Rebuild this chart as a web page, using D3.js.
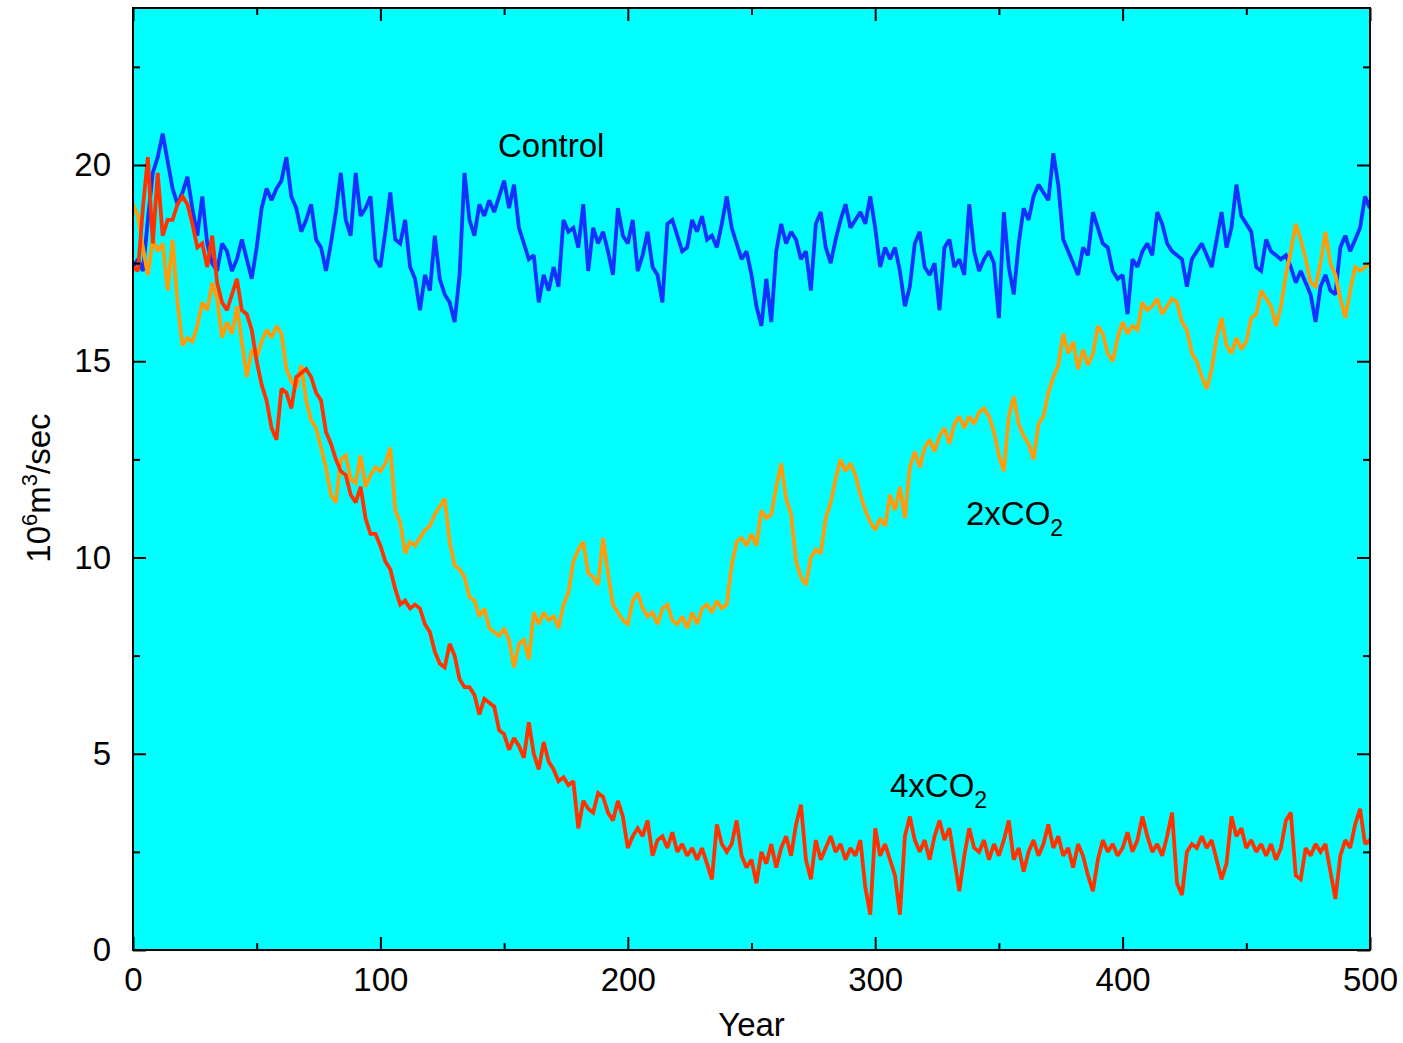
<!DOCTYPE html>
<html><head><meta charset="utf-8">
<script src="https://cdn.jsdelivr.net/npm/d3@7"></script>
<style>
body{margin:0;background:#fff}
text{font-family:"Liberation Sans",Arial,Helvetica,sans-serif;fill:#000}
</style>
</head><body>
<svg id="chart" width="1403" height="1043"></svg>
<script>
// Values every 2 years, years 0..500
const control = [
17.4,17.6,17.3,18.6,19.8,20.2,20.8,20.1,19.4,19.0,
19.3,19.7,18.9,18.2,19.2,18.0,17.5,17.3,18.0,17.8,
17.3,17.6,18.1,17.6,17.1,17.9,18.9,19.4,19.1,19.4,
19.6,20.2,19.2,18.9,18.3,18.6,19.0,18.1,17.9,17.3,
18.0,18.8,19.8,18.6,18.2,19.8,18.7,18.9,19.2,17.6,
17.4,18.3,19.3,18.1,18.0,18.6,17.4,17.1,16.3,17.2,
16.8,18.2,17.1,16.7,16.5,16.0,17.2,19.8,18.6,18.2,
19.0,18.7,19.1,18.8,19.2,19.6,18.9,19.5,18.4,18.0,
17.6,17.7,16.5,17.2,16.8,17.4,16.9,18.6,18.3,18.4,
17.9,19.0,17.3,18.4,18.0,18.3,17.8,17.2,18.9,18.2,
18.0,18.6,17.3,17.7,18.3,17.4,17.2,16.5,18.5,18.6,
18.2,17.8,17.9,18.6,18.3,18.7,18.1,18.2,17.9,18.5,
19.2,18.4,18.0,17.6,17.8,17.2,16.4,15.9,17.1,16.0,
17.8,18.5,18.0,18.3,18.1,17.6,17.8,16.8,18.5,18.8,
17.9,17.5,18.1,18.6,19.0,18.4,18.6,18.8,18.5,19.2,
18.4,17.4,17.9,17.6,17.9,17.3,16.4,16.9,18.0,18.3,
17.4,17.2,17.5,16.3,17.9,18.1,17.4,17.6,17.2,19.0,
17.8,17.3,17.6,17.8,17.5,16.1,18.8,17.4,16.7,18.0,
18.9,18.6,19.2,19.5,19.3,19.1,20.3,19.5,18.1,17.8,
17.5,17.2,17.9,17.7,18.8,18.4,18.0,17.9,17.3,17.1,
17.2,16.2,17.6,17.4,17.8,18.0,17.7,18.8,18.5,18.0,
17.8,17.7,17.6,16.9,17.6,17.8,18.0,17.7,17.4,18.1,
18.8,17.9,18.4,19.5,18.7,18.5,18.3,17.4,17.3,18.1,
17.8,17.7,17.6,17.7,17.4,17.0,17.3,17.0,16.7,16.0,
16.9,17.2,16.8,16.7,17.9,18.2,17.8,18.1,18.4,19.2,
18.9
];
const co2x2 = [
19.0,18.7,17.9,17.2,18.1,17.8,18.0,16.8,18.1,16.5,
15.4,15.6,15.5,15.9,16.5,16.3,17.0,16.6,15.6,16.0,
15.7,16.4,15.5,14.6,15.3,15.1,15.5,15.8,15.6,15.9,
15.7,14.8,14.5,14.3,14.9,14.0,13.5,13.3,12.8,12.3,
11.6,11.4,12.5,12.6,12.0,11.9,12.6,11.8,12.1,12.3,
12.2,12.4,12.8,11.2,10.9,10.1,10.4,10.3,10.5,10.7,
10.8,11.1,11.3,11.5,10.4,9.8,9.7,9.5,9.0,8.9,
8.5,8.7,8.2,8.1,8.0,8.2,7.9,7.2,7.8,7.9,
7.4,8.6,8.3,8.6,8.4,8.5,8.2,8.8,9.1,9.9,
10.2,10.4,9.6,9.5,9.3,10.5,9.6,8.8,8.6,8.4,
8.3,8.9,9.1,8.7,8.5,8.6,8.3,8.7,8.8,8.4,
8.3,8.5,8.2,8.6,8.3,8.7,8.8,8.6,8.9,8.7,
8.8,9.8,10.4,10.5,10.3,10.6,10.3,11.2,11.0,11.1,
11.8,12.4,11.5,11.1,9.9,9.5,9.3,10.0,10.2,10.1,
11.0,11.4,12.0,12.5,12.2,12.4,12.1,11.6,11.2,10.9,
10.7,11.0,10.8,11.6,11.2,11.8,11.0,12.3,12.7,12.3,
12.8,13.0,12.7,13.1,13.3,12.9,13.4,13.6,13.3,13.6,
13.4,13.7,13.8,13.6,13.2,12.6,12.2,13.6,14.1,13.4,
13.1,12.9,12.5,13.4,13.6,14.2,14.6,14.9,15.7,15.2,
15.5,14.8,15.3,14.9,15.2,15.9,15.7,15.2,15.0,15.6,
16.0,15.7,15.9,15.8,16.5,16.3,16.4,16.6,16.2,16.4,
16.6,16.5,16.0,15.8,15.2,15.0,14.6,14.3,14.8,15.6,
16.1,15.4,15.2,15.6,15.3,15.5,16.1,16.2,16.8,16.6,
16.4,15.9,16.4,17.2,17.8,18.5,18.1,17.6,17.0,16.9,
17.5,18.3,17.5,17.2,16.6,16.1,16.8,17.4,17.3,17.4,
17.5
];
const co2x4 = [
17.4,17.3,18.9,20.2,18.0,19.8,18.2,18.6,18.6,19.0,
19.2,19.0,18.5,17.9,18.0,17.4,18.2,17.0,16.5,16.3,
16.7,17.1,16.3,16.2,15.8,15.0,14.4,14.0,13.3,13.0,
14.3,14.2,13.8,14.6,14.7,14.8,14.6,14.2,14.0,13.2,
12.9,12.5,12.2,12.1,11.6,11.4,11.8,11.0,10.6,10.6,
10.3,9.9,9.7,9.2,8.8,8.9,8.7,8.8,8.7,8.3,
8.1,7.6,7.3,7.2,7.8,7.5,6.9,6.7,6.7,6.5,
6.0,6.4,6.3,6.2,5.6,5.5,5.1,5.4,5.2,4.9,
5.8,5.0,4.6,5.3,4.8,4.6,4.3,4.4,4.2,4.3,
3.1,3.8,3.6,3.5,4.0,3.9,3.5,3.3,3.8,3.4,
2.6,2.9,3.1,2.9,3.3,2.4,2.8,2.9,2.6,3.0,
2.5,2.7,2.4,2.6,2.3,2.6,2.2,1.8,3.2,2.7,
2.5,2.7,3.3,2.4,2.1,2.3,1.7,2.5,2.2,2.7,
2.1,2.6,2.9,2.4,3.2,3.7,2.3,1.8,2.8,2.3,
2.6,2.9,2.5,2.7,2.3,2.6,2.4,2.8,1.6,0.9,
3.1,2.4,2.7,2.3,1.9,0.9,2.9,3.4,2.8,2.5,
2.8,2.3,2.9,3.3,2.8,3.1,2.3,1.5,2.4,3.1,
2.6,2.5,2.8,2.3,2.7,2.4,2.8,3.3,2.3,2.6,
2.0,2.5,2.8,2.4,2.7,3.2,2.6,2.9,2.4,2.6,
2.1,2.7,2.4,1.9,1.5,2.3,2.8,2.5,2.7,2.4,
2.6,3.0,2.5,2.8,3.4,2.9,2.5,2.7,2.4,2.9,
3.5,1.7,1.4,2.5,2.7,2.6,2.9,2.6,2.8,2.3,
1.8,2.2,3.4,2.9,3.1,2.6,2.8,2.5,2.7,2.4,
2.7,2.3,2.6,3.3,3.5,1.9,1.8,2.6,2.4,2.7,
2.5,2.7,2.0,1.3,2.4,2.8,2.6,3.2,3.6,2.7,
2.8
];
const yearStep = 2;
const xMajorTicks = [0,100,200,300,400,500];
const xMinorTicks = [50,150,250,350,450];
const yMajorTicks = [0,5,10,15,20];
const yMinorTicks = [2.5,7.5,12.5,17.5,22.5];

const svg = d3.select("#chart");
const L = 133, T = 8, R = 1370, B = 950;
const x = d3.scaleLinear().domain([0,500]).range([L,R]);
const y = d3.scaleLinear().domain([0,24]).range([B,T]);

svg.append("rect").attr("x",L).attr("y",T).attr("width",R-L).attr("height",B-T).attr("fill","#00ffff");

svg.append("clipPath").attr("id","clip").append("rect")
  .attr("x",L).attr("y",T).attr("width",R-L).attr("height",B-T);

const series = [
  {name:"Control", values:control, color:"#1432ff"},
  {name:"2xCO2", values:co2x2, color:"#ff9c0c"},
  {name:"4xCO2", values:co2x4, color:"#ff3300"}
];
const line = d3.line().x((d,i)=>x(i*yearStep)).y(d=>y(d));
const g = svg.append("g").attr("clip-path","url(#clip)");
series.forEach(s=>{
  g.append("path").datum(s.values).attr("d",line)
    .attr("fill","none").attr("stroke",s.color).attr("stroke-width",3.8)
    .attr("stroke-linejoin","miter").attr("stroke-miterlimit",2);
});

function styleAxis(sel){
  sel.select(".domain").remove();
  sel.selectAll(".tick line").attr("stroke","#000").attr("stroke-width",2);
  sel.selectAll(".tick text").style("font-size","33px").attr("fill","#000");
}
const fmt = d3.format("d");
// bottom
svg.append("g").attr("transform",`translate(0,${B})`)
  .call(d3.axisBottom(x).tickValues(xMajorTicks).tickSize(-13).tickPadding(18).tickFormat(fmt)).call(styleAxis);
svg.append("g").attr("transform",`translate(0,${B})`)
  .call(d3.axisBottom(x).tickValues(xMinorTicks).tickSize(-7).tickFormat("")).call(styleAxis);
// top
svg.append("g").attr("transform",`translate(0,${T})`)
  .call(d3.axisTop(x).tickValues(xMajorTicks).tickSize(-13).tickFormat("")).call(styleAxis);
svg.append("g").attr("transform",`translate(0,${T})`)
  .call(d3.axisTop(x).tickValues(xMinorTicks).tickSize(-7).tickFormat("")).call(styleAxis);
// left
svg.append("g").attr("transform",`translate(${L},0)`)
  .call(d3.axisLeft(y).tickValues(yMajorTicks).tickSize(-13).tickPadding(22).tickFormat(fmt)).call(styleAxis);
svg.append("g").attr("transform",`translate(${L},0)`)
  .call(d3.axisLeft(y).tickValues(yMinorTicks).tickSize(-7).tickFormat("")).call(styleAxis);
// right
svg.append("g").attr("transform",`translate(${R},0)`)
  .call(d3.axisRight(y).tickValues(yMajorTicks).tickSize(-13).tickFormat("")).call(styleAxis);
svg.append("g").attr("transform",`translate(${R},0)`)
  .call(d3.axisRight(y).tickValues(yMinorTicks).tickSize(-7).tickFormat("")).call(styleAxis);

svg.append("rect").attr("x",L).attr("y",T).attr("width",R-L).attr("height",B-T)
  .attr("fill","none").attr("stroke","#000").attr("stroke-width",2);

// axis titles
svg.append("text").attr("x",(L+R)/2).attr("y",1036).attr("text-anchor","middle")
  .style("font-size","33px").text("Year");
const yl = svg.append("text").attr("transform","translate(50,488) rotate(-90)")
  .attr("text-anchor","middle").style("font-size","33px");
yl.append("tspan").text("10");
yl.append("tspan").attr("dy",-13).style("font-size","22px").text("6");
yl.append("tspan").attr("dy",13).text("m");
yl.append("tspan").attr("dy",-13).style("font-size","22px").text("3");
yl.append("tspan").attr("dy",13).text("/sec");

// series labels
svg.append("text").attr("x",498).attr("y",157).style("font-size","33px").text("Control");
function co2Label(xp, yp, pre){
  const t = svg.append("text").attr("x",xp).attr("y",yp).style("font-size","33px");
  t.append("tspan").text(pre + "xCO");
  t.append("tspan").attr("dy",11).style("font-size","23px").text("2");
}
co2Label(966, 525, "2");
co2Label(890, 797, "4");
</script>
</body></html>
